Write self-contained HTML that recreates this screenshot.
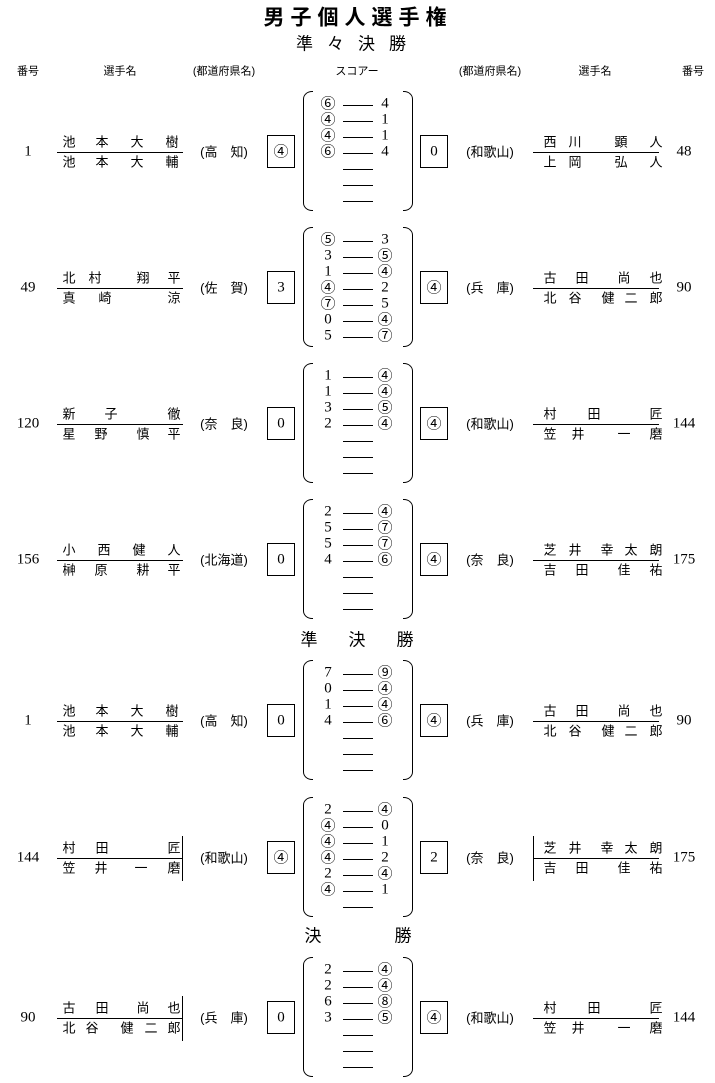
<!DOCTYPE html>
<html><head><meta charset="utf-8"><style>
body{margin:0;background:#fff;width:715px;height:1083px;position:relative;overflow:hidden;font-family:"Liberation Sans","Noto Sans CJK JP",sans-serif;color:#000}
.t{position:absolute;white-space:nowrap;line-height:1;transform:translate(-50%,-50%)}
.b{position:absolute;border:1px solid #000;box-sizing:border-box}
.l{position:absolute;background:#000}
.bl{position:absolute;width:10px;border:1px solid #000;border-right:none;border-radius:9px 0 0 9px/8px 0 0 8px;box-sizing:border-box}
.br{position:absolute;width:10px;border:1px solid #000;border-left:none;border-radius:0 9px 9px 0/0 8px 8px 0;box-sizing:border-box}
</style></head><body>
<div class="t" style="left:358px;top:18px;font-size:21px;font-weight:bold;letter-spacing:6px">男子個人選手権</div>
<div class="t" style="left:358px;top:44px;font-size:17px;letter-spacing:14px">準々決勝</div>
<div class="t" style="left:28px;top:72px;font-size:11px">番号</div>
<div class="t" style="left:120px;top:72px;font-size:11px">選手名</div>
<div class="t" style="left:224px;top:72px;font-size:11px">(都道府県名)</div>
<div class="t" style="left:357px;top:72px;font-size:11px">スコアー</div>
<div class="t" style="left:490px;top:72px;font-size:11px">(都道府県名)</div>
<div class="t" style="left:595px;top:72px;font-size:11px">選手名</div>
<div class="t" style="left:693px;top:72px;font-size:11px">番号</div>
<div class="t" style="left:309px;top:640px;font-size:17px">準</div>
<div class="t" style="left:357px;top:640px;font-size:17px">決</div>
<div class="t" style="left:405px;top:640px;font-size:17px">勝</div>
<div class="t" style="left:313px;top:936px;font-size:17px">決</div>
<div class="t" style="left:403px;top:936px;font-size:17px">勝</div>
<div id="root"></div>
<script>
var R=document.getElementById('root');
function T(x,y,s,fs,extra){var d=document.createElement('div');d.className='t';d.style.left=x+'px';d.style.top=y+'px';d.style.fontSize=(fs||13)+'px';if(extra)d.style.cssText+=extra;d.textContent=s;R.appendChild(d);}
function S(x,y,s){if(/^[0-9]+$/.test(s))T(x,y,s,15,'font-family:"Liberation Serif",serif;');else T(x,y,s,15);}
function D(cls,x,y,w,h){var d=document.createElement('div');d.className=cls;d.style.left=x+'px';d.style.top=y+'px';d.style.width=w+'px';d.style.height=h+'px';R.appendChild(d);}
var N={
'池本大樹':[[69,102,137,172],[550,575,621,656]],
'池本大輔':[[69,102,137,172],[550,575,621,656]],
'西川顕人':[[69,102,137,172],[550,575,621,656]],
'上岡弘人':[[69,102,137,172],[550,575,621,656]],
'北村翔平':[[69,95,143,174],[550,575,621,656]],
'真崎涼':[[69,105,174],[550,594,656]],
'新子徹':[[69,111,174],[550,594,656]],
'星野慎平':[[69,101,143,174],[550,578,624,656]],
'小西健人':[[69,104,139,174],[550,578,624,656]],
'榊原耕平':[[69,101,143,174],[550,578,624,656]],
'村田匠':[[69,102,174],[550,594,656]],
'笠井一磨':[[69,101,141,174],[550,578,624,656]],
'古田尚也':[[69,102,143,174],[550,582,624,656]],
'北谷健二郎':[[69,92,127,151,174],[550,575,608,631,656]],
'芝井幸太朗':[[69,92,127,151,174],[550,575,607,631,656]],
'吉田佳祐':[[69,102,143,174],[550,582,624,656]]
};
function name(s,side,y){var p=N[s][side];var ch=Array.from(s);for(var i=0;i<ch.length;i++)T(p[i],y,ch[i],13);}
var M=[
[152,'1','池本大樹','池本大輔','(高　知)','④',[['⑥','4'],['④','1'],['④','1'],['⑥','4'],['',''],['',''],['','']],'0','(和歌山)','西川顕人','上岡弘人','48',0,0],
[288,'49','北村翔平','真崎涼','(佐　賀)','3',[['⑤','3'],['3','⑤'],['1','④'],['④','2'],['⑦','5'],['0','④'],['5','⑦']],'④','(兵　庫)','古田尚也','北谷健二郎','90',0,0],
[424,'120','新子徹','星野慎平','(奈　良)','0',[['1','④'],['1','④'],['3','⑤'],['2','④'],['',''],['',''],['','']],'④','(和歌山)','村田匠','笠井一磨','144',0,0],
[560,'156','小西健人','榊原耕平','(北海道)','0',[['2','④'],['5','⑦'],['5','⑦'],['4','⑥'],['',''],['',''],['','']],'④','(奈　良)','芝井幸太朗','吉田佳祐','175',0,0],
[721,'1','池本大樹','池本大輔','(高　知)','0',[['7','⑨'],['0','④'],['1','④'],['4','⑥'],['',''],['',''],['','']],'④','(兵　庫)','古田尚也','北谷健二郎','90',0,0],
[858,'144','村田匠','笠井一磨','(和歌山)','④',[['2','④'],['④','0'],['④','1'],['④','2'],['2','④'],['④','1'],['','']],'2','(奈　良)','芝井幸太朗','吉田佳祐','175',1,1],
[1018,'90','古田尚也','北谷健二郎','(兵　庫)','0',[['2','④'],['2','④'],['6','⑧'],['3','⑤'],['',''],['',''],['','']],'④','(和歌山)','村田匠','笠井一磨','144',1,0]
];
M.forEach(function(m){
var c=m[0];
S(28,c,m[1]);
name(m[2],0,c-10);name(m[3],0,c+10);
D('l',57,c,126,1);
if(m[12])D('l',182,c-22,1,45);
T(224,c,m[4],13);
D('b',267,c-17,28,33);S(281,c,m[5]);
D('bl',303,c-61,10,120);D('br',403,c-61,10,120);
m[6].forEach(function(r,i){var y=c-48+16*i;if(r[0])S(328,y,r[0]);D('l',343,y+1,30,1);if(r[1])S(385,y,r[1]);});
D('b',420,c-17,28,33);S(434,c,m[7]);
T(490,c,m[8],13);
name(m[9],1,c-10);name(m[10],1,c+10);
D('l',533,c,126,1);
if(m[13])D('l',533,c-22,1,45);
S(684,c,m[11]);
});
</script>
</body></html>
